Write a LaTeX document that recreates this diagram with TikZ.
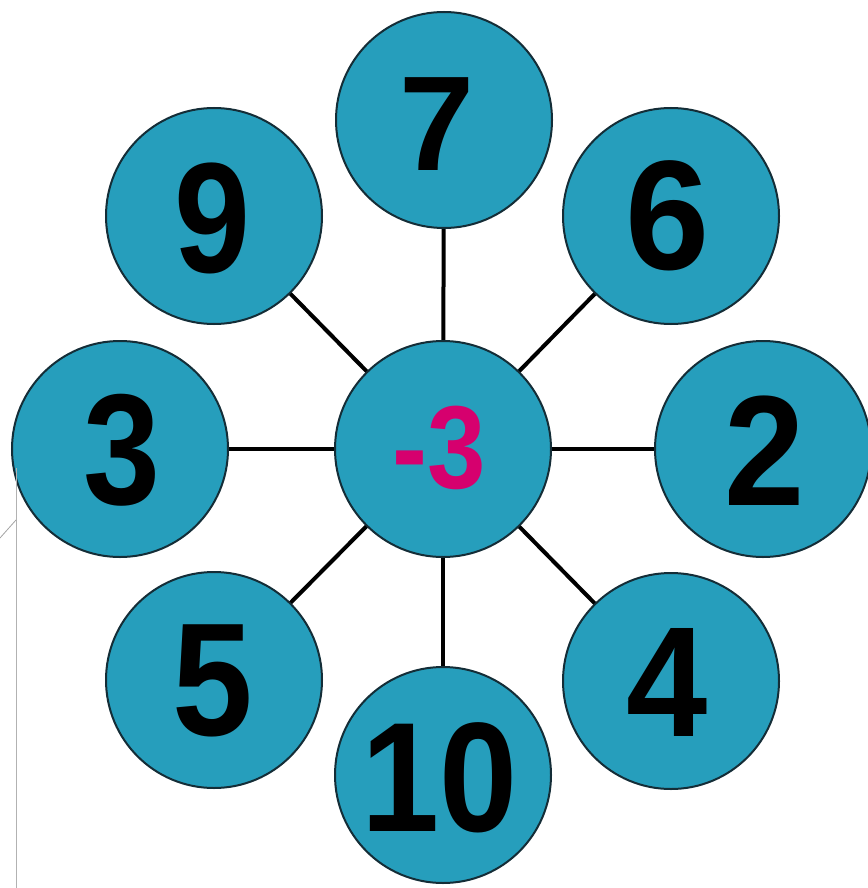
\documentclass[tikz,border=0pt]{standalone}
\usepackage{fontspec}
\setmainfont{Liberation Sans}
\definecolor{discfill}{RGB}{38,158,188}
\definecolor{discline}{RGB}{20,45,55}
\definecolor{centertext}{RGB}{214,0,110}
\newcommand{\digitbox}[3]{{\fontsize{#1}{#1}\selectfont\bfseries\scalebox{#2}[1]{#3}}}
\begin{document}
\begin{tikzpicture}[x=1pt,y=-1pt,
  disc/.style={circle,fill=discfill,draw=discline,line width=2pt,minimum size=216pt,inner sep=0pt},
  spoke/.style={draw=black,line width=4pt},
  num/.style={inner sep=0pt}]
\useasboundingbox (0,0) rectangle (867,888);
\fill[white] (0,0) rectangle (867,888);
% spokes first (under discs)
\coordinate (c0) at (443,449);
\coordinate (c7) at (444,120);
\coordinate (c9) at (214,216);
\coordinate (c6) at (671,216);
\coordinate (c3) at (120,449);
\coordinate (c2) at (763,449);
\coordinate (c5) at (214,680);
\coordinate (c4) at (671,681);
\coordinate (c10) at (443,775);
\foreach \t in {c7,c9,c6,c3,c2,c5,c4,c10} \draw[spoke] (c0) -- (\t);
% discs
\node[disc] (n0) at (c0) {};
\node[disc] (n7) at (c7) {};
\node[disc] (n9) at (c9) {};
\node[disc] (n6) at (c6) {};
\node[disc] (n3) at (c3) {};
\node[disc] (n2) at (c2) {};
\node[disc] (n5) at (c5) {};
\node[disc] (n4) at (c4) {};
\node[disc] (n10) at (c10) {};
% labels
\node[num] (t7) at (437,124) {\digitbox{135}{1}{7}};
\node[num] (t9) at (212,218) {\digitbox{157}{0.87}{9}};
\node[num] (t6) at (668,216) {\digitbox{156}{0.97}{6}};
\node[num] (t3) at (122,450) {\digitbox{158}{0.875}{3}};
\node[num] (t2) at (765,451) {\digitbox{157}{0.92}{2}};
\node[num] (t5) at (213,681) {\digitbox{161}{0.9}{5}};
\node[num] (t4) at (667,682) {\digitbox{157}{0.93}{4}};
\node[num] (t10) at (440,778) {\digitbox{156}{0.9}{10}};
\node[num,text=centertext] (t0) at (439,448) {\digitbox{118}{0.89}{-3}};
% scan artefacts at the left edge
\draw[gray!60,line width=0.8pt] (16,468) -- (16,888);
\draw[gray!70,line width=0.8pt] (0,538) -- (16,520);
\end{tikzpicture}
\end{document}
